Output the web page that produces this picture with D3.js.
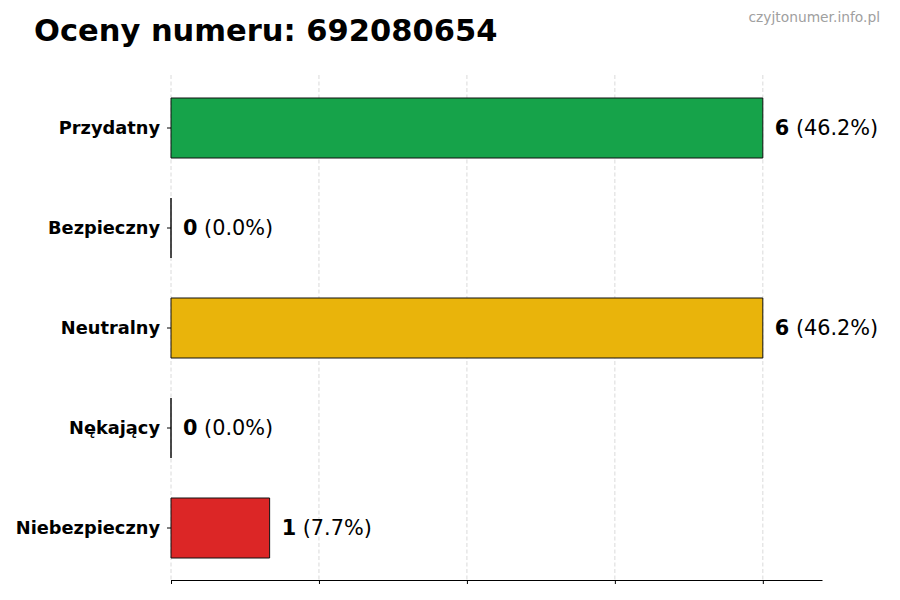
<!DOCTYPE html>
<html><head><meta charset="utf-8">
<script src="https://cdn.jsdelivr.net/npm/d3@7"></script>
<style>body{margin:0;background:#fff}svg{display:block;font-family:"DejaVu Sans",sans-serif}</style>
</head><body>
<svg id="c" width="900" height="600"></svg>
<script>
const categories = ["Przydatny","Bezpieczny","Neutralny","Nękający","Niebezpieczny"];
const values = [6,0,6,0,1];
const percents = ["46.2%","0.0%","46.2%","0.0%","7.7%"];
const colors = ["#16a34a","#6b7280","#e9b40b","#f97316","#dc2626"];
const xTicks = [0,1.5,3,4.5,6];
const title = "Oceny numeru: 692080654";
const watermark = "czyjtonumer.info.pl";

const svg = d3.select("#c");
const x = d3.scaleLinear().domain([0,6.6]).range([171,822]);
const y = d3.scaleBand().domain(categories).range([78,578]).paddingInner(0.4).paddingOuter(0.2);
const gridTop = 75, axisY = 580;

// grid
svg.append("g").selectAll("line").data(xTicks).join("line")
  .attr("x1",d=>x(d)).attr("x2",d=>x(d)).attr("y1",gridTop).attr("y2",axisY)
  .attr("stroke","#d0d0d0").attr("stroke-width",0.8).attr("stroke-dasharray","4,2.5");

// bars
svg.append("g").selectAll("path").data(categories).join("path")
  .attr("d",(c,i)=>{
    const p=d3.path(); const x0=x(0), x1=x(values[i]), y0=y(c), h=y.bandwidth();
    p.moveTo(x0,y0); p.lineTo(x1,y0); p.lineTo(x1,y0+h); p.lineTo(x0,y0+h); p.closePath();
    return p.toString();
  })
  .attr("fill",(c,i)=>colors[i])
  .attr("stroke","#111").attr("stroke-width",1);

// x axis
const xa = svg.append("g").attr("transform",`translate(0,${axisY})`)
  .call(d3.axisBottom(x).tickValues(xTicks).tickFormat("").tickSize(4).tickSizeOuter(0));
xa.select(".domain").attr("stroke","#000").attr("stroke-width",1.2);
xa.selectAll(".tick line").attr("stroke","#000").attr("stroke-width",1);

// y axis ticks + labels
const ya = svg.append("g").attr("transform",`translate(${x(0)},0)`)
  .call(d3.axisLeft(y).tickSize(4).tickPadding(7));
ya.attr("font-size",null).attr("font-family",null);
ya.select(".domain").remove();
ya.selectAll(".tick line").attr("stroke","#000");
ya.selectAll(".tick text").attr("font-weight","bold").attr("fill","#000")
  .style("font-size","17.8px");

// value labels
const lbl = svg.append("g").selectAll("text").data(categories).join("text")
  .attr("x",(c,i)=>x(values[i])+12).attr("y",c=>y(c)+y.bandwidth()/2).attr("dy","0.35em")
  .style("font-size","20.8px").attr("fill","#000");
lbl.append("tspan").attr("font-weight","bold").text((c,i)=>values[i]);
lbl.append("tspan").text((c,i)=>" ("+percents[i]+")");

// title
svg.append("text").attr("x",34).attr("y",41).style("font-size","30.5px").attr("font-weight","bold").attr("fill","#000").text(title);
svg.append("text").attr("x",880).attr("y",22).attr("text-anchor","end").style("font-size","13.8px").attr("fill","#a0a0a0").text(watermark);
</script>
</body></html>
